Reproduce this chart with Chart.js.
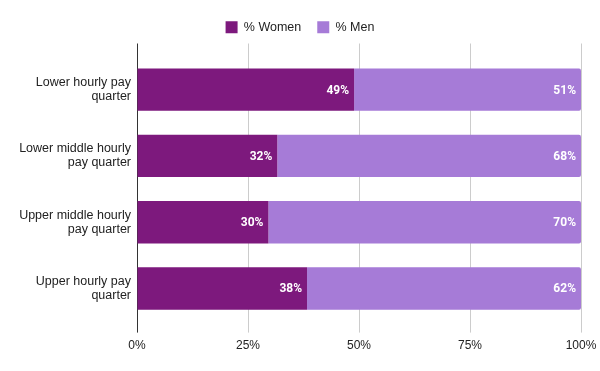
<!DOCTYPE html>
<html>
<head>
<meta charset="utf-8">
<script src="https://cdn.jsdelivr.net/npm/chart.js@4/dist/chart.umd.min.js"></script>
<style>
  html, body { margin: 0; padding: 0; background: #fff; }
  #wrap { width: 600px; height: 371px; }
</style>
</head>
<body>
<div id="wrap"><canvas id="chart" width="600" height="371"></canvas></div>
<script>
// pay quarters, share of women / men
const categories = [
  ['Lower hourly pay', 'quarter'],
  ['Lower middle hourly', 'pay quarter'],
  ['Upper middle hourly', 'pay quarter'],
  ['Upper hourly pay', 'quarter']
];
const womenPct = [48.9, 31.6, 29.6, 38.3];
const menPct = [51.1, 68.4, 70.4, 61.7];
const xTicks = [0, 25, 50, 75, 100];

const womenColor = '#7D197D';
const menColor = '#A67BD7';
const gridColor = '#CCCCCC';
const axisColor = '#333333';

// white value labels at the end of each segment
const barLabels = {
  id: 'barLabels',
  afterDatasetsDraw(chart) {
    const ctx = chart.ctx;
    ctx.save();
    ctx.fillStyle = '#FFFFFF';
    ctx.font = 'bold 12px Roboto';
    ctx.textAlign = 'right';
    ctx.textBaseline = 'middle';
    chart.data.datasets.forEach((ds, i) => {
      chart.getDatasetMeta(i).data.forEach((bar, j) => {
        ctx.fillText(Math.round(ds.data[j]) + '%', bar.x - 5, bar.y + 1);
      });
    });
    ctx.restore();
  }
};

new Chart(document.getElementById('chart'), {
  type: 'bar',
  data: {
    labels: categories,
    datasets: [
      {
        label: '% Women',
        data: womenPct,
        backgroundColor: womenColor,
        categoryPercentage: 1,
        barPercentage: 0.64
      },
      {
        label: '% Men',
        data: menPct,
        backgroundColor: menColor,
        borderRadius: { topRight: 2, bottomRight: 2 },
        borderSkipped: false,
        categoryPercentage: 1,
        barPercentage: 0.64
      }
    ]
  },
  options: {
    indexAxis: 'y',
    responsive: false,
    animation: false,
    layout: { padding: { left: 13, right: 13, top: 5, bottom: 12 } },
    plugins: {
      legend: {
        position: 'top',
        labels: {
          boxWidth: 12,
          boxHeight: 12,
          padding: 16,
          color: '#222',
          font: { family: 'Liberation Sans', size: 12.5 }
        }
      },
      tooltip: { enabled: false }
    },
    scales: {
      x: {
        stacked: true,
        min: 0,
        max: 100,
        afterBuildTicks: (scale) => { scale.ticks = xTicks.map(v => ({ value: v })); },
        afterFit: (scale) => { scale.paddingRight = 19; },
        grid: {
          color: (c) => c.tick && c.tick.value === 0 ? axisColor : gridColor,
          tickLength: 11
        },
        border: { display: false },
        ticks: {
          color: '#222',
          padding: 6,
          font: { family: 'Liberation Sans', size: 12 },
          callback: (v) => v + '%'
        }
      },
      x2: {
        position: 'top',
        min: 0,
        max: 100,
        afterBuildTicks: (scale) => { scale.ticks = xTicks.map(v => ({ value: v })); },
        grid: {
          drawOnChartArea: false,
          color: (c) => c.tick && c.tick.value === 0 ? axisColor : gridColor,
          tickLength: 13
        },
        border: { display: false },
        ticks: { display: false }
      },
      y: {
        stacked: true,
        grid: { display: false, drawTicks: false },
        border: { display: false },
        afterFit: (scale) => { scale.width = 124; },
        ticks: {
          color: '#222',
          padding: 6,
          font: { family: 'Liberation Sans', size: 12.5, lineHeight: 1.12 }
        }
      }
    }
  },
  plugins: [barLabels]
});
</script>
</body>
</html>
